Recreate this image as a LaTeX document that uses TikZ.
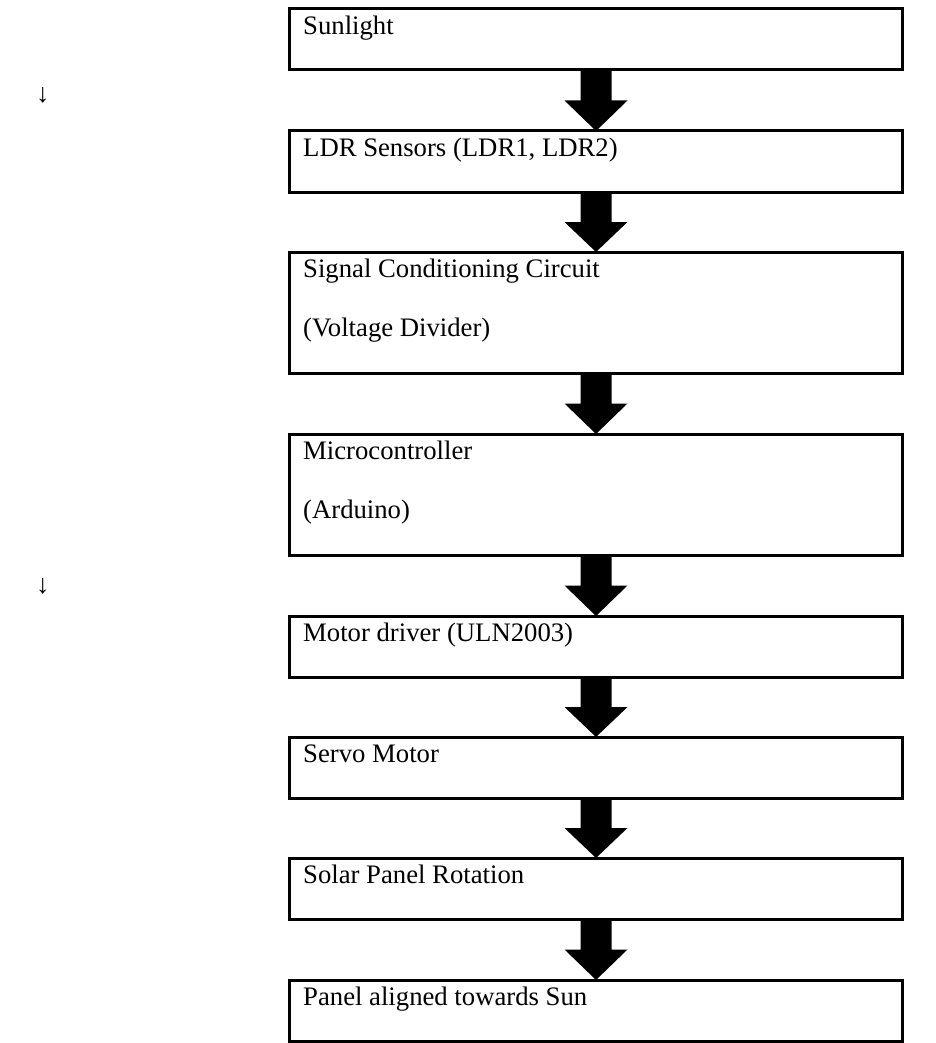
\documentclass[tikz,border=0pt]{standalone}
\usepackage{fontspec}
\setmainfont{Liberation Serif}
\usetikzlibrary{calc}
\newcommand\flowarrow[3]{%
  \fill let \p1=(#1.south), \p2=(#2.north) in
    ({(#3-15.5)*1pt},\y1) -- ({(#3+15.5)*1pt},\y1) --
    ({(#3+15.5)*1pt},{(\y1+\y2)/2}) -- ({(#3+31.5)*1pt},{(\y1+\y2)/2}) --
    ({#3*1pt},\y2) --
    ({(#3-31.5)*1pt},{(\y1+\y2)/2}) -- ({(#3-15.5)*1pt},{(\y1+\y2)/2}) -- cycle;}
\begin{document}
\begin{tikzpicture}[x=1pt,y=-1pt,
  box/.style={draw, line width=3pt, rectangle, inner sep=0pt, outer sep=0pt,
    minimum width=613pt, anchor=north west},
  single/.style={box, minimum height=61pt},
  double/.style={box, minimum height=121pt},
  lbl/.style={anchor=base west, inner sep=0pt, font=\fontsize{26.7}{30}\selectfont},
]
\useasboundingbox (0,0) rectangle (936,1043);
\node[single] (b1) at (289,9) {};
\node[single] (b2) at (289,131) {};
\node[double] (b3) at (289,252) {};
\node[double] (b4) at (289,434) {};
\node[single] (b5) at (289,616) {};
\node[single] (b6) at (289,737) {};
\node[single] (b7) at (289,858) {};
\node[single] (b8) at (289,980) {};

\node[lbl] (t1) at (303,35) {Sunlight};
\node[lbl] (t2) at (303,157) {LDR Sensors (LDR1, LDR2)};
\node[lbl] (t3a) at (303,277) {Signal Conditioning Circuit};
\node[lbl] (t3b) at (303,336) {(Voltage Divider)};
\node[lbl] (t4a) at (303,459) {Microcontroller};
\node[lbl] (t4b) at (303,518) {(Arduino)};
\node[lbl] (t5) at (303,641) {Motor driver (ULN2003)};
\node[lbl] (t6) at (303,762) {Servo Motor};
\node[lbl] (t7) at (303,883) {Solar Panel Rotation};
\node[lbl] (t8) at (303,1005) {Panel aligned towards Sun};

\node[lbl] (d1) at (36,103) {↓};
\node[lbl] (d2) at (36,593) {↓};

\flowarrow{b1}{b2}{596}
\flowarrow{b2}{b3}{596}
\flowarrow{b3}{b4}{596}
\flowarrow{b4}{b5}{596}
\flowarrow{b5}{b6}{596}
\flowarrow{b6}{b7}{596}
\flowarrow{b7}{b8}{596}
\end{tikzpicture}
\end{document}
